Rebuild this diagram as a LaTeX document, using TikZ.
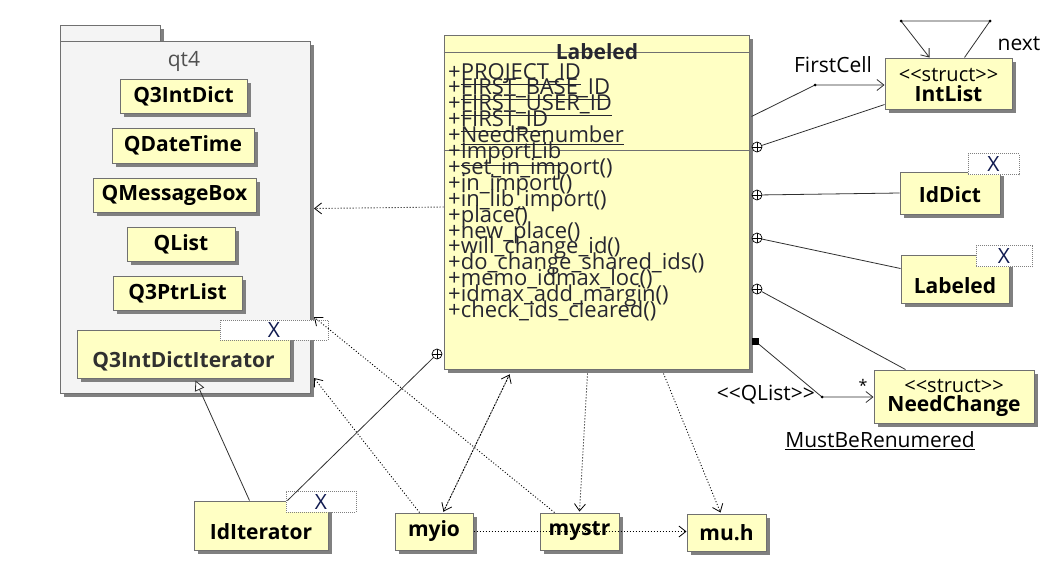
\documentclass[tikz,border=0pt]{standalone}
\usepackage{fontspec}
\setmainfont{Open Sans}
\usetikzlibrary{arrows.meta,shadows,calc}
\definecolor{clsfill}{HTML}{FFFFC4}
\definecolor{clsborder}{HTML}{707070}
\definecolor{pkgfill}{HTML}{F4F4F4}
\definecolor{memtxt}{HTML}{262630}
\definecolor{xblue}{HTML}{101A50}
\definecolor{lncol}{HTML}{303030}
\definecolor{pkgtxt}{HTML}{505050}
\newcommand{\fsz}[1]{\fontsize{#1}{#1}\selectfont}
\newcommand{\stereo}[1]{<{}<#1>{}>}
\begin{document}
\begin{tikzpicture}[x=1pt,y=-1pt,
  cls/.style={draw=clsborder, line width=1pt, fill=clsfill, inner sep=0pt,
    drop shadow={shadow xshift=3.5pt, shadow yshift=-3.5pt, fill=gray, opacity=1}},
  pkg/.style={draw=clsborder, line width=1pt, fill=pkgfill, inner sep=0pt,
    drop shadow={shadow xshift=3.5pt, shadow yshift=-3.5pt, fill=gray, opacity=1}},
  cname/.style={font=\fsz{21}\bfseries, text=black},
  ster/.style={font=\fsz{20}, text=black, align=center, inner sep=0pt},
  tmpl/.style={draw=gray, line width=1pt, dash pattern=on 1pt off 1pt, fill=white, inner sep=0pt, font=\fsz{21}, text=xblue},
  lbl/.style={font=\fsz{21}, text=black, inner sep=0pt},
  mem/.style={font=\fsz{22}, text=memtxt, inner sep=0pt, anchor=base west},
  assoc/.style={draw=lncol, line width=0.8pt},
  dep/.style={draw=black, line width=0.9pt, dash pattern=on 1pt off 2pt},
  arr/.style={-{Straight Barb[length=7pt,width=11pt,line width=0.8pt]}},
  cplus/.style={circle, draw=black, fill=white, line width=0.7pt, minimum size=10pt, inner sep=0pt,
    path picture={\draw[line width=0.7pt] (path picture bounding box.north) -- (path picture bounding box.south)
      (path picture bounding box.west) -- (path picture bounding box.east);}},
  dotpt/.style={circle, fill=black, minimum size=3pt, inner sep=0pt},
]
\useasboundingbox (0,0) rectangle (1054,566);
\fill[white] (0,0) rectangle (1054,566);

% package qt4
\node[pkg, minimum width=100pt, minimum height=16pt, anchor=north west] (qt4tab) at (60,25) {};
\node[pkg, minimum width=250pt, minimum height=352pt, anchor=north west] (qt4) at (60,41) {};
\node[font=\fsz{21}, text=pkgtxt] (qt4lbl) at (184,61) {qt4};

\node[cls, cname, minimum width=127pt, minimum height=34pt] (q3id) at (183.5,96) {Q3IntDict};
\node[cls, cname, minimum width=142pt, minimum height=35pt] (qdt) at (183,145.5) {QDateTime};
\node[cls, cname, minimum width=163pt, minimum height=34pt] (qmb) at (174.5,195) {QMessageBox};
\node[cls, cname, minimum width=108pt, minimum height=34pt] (qlist) at (181,244) {QList};
\node[cls, cname, minimum width=129pt, minimum height=34pt] (q3pl) at (177.5,293) {Q3PtrList};
\node[cls, minimum width=213pt, minimum height=48pt] (q3idi) at (183.5,354) {};
\node[cname, text=pkgtxt!60!black] (q3idit) at (183.5,361) {Q3IntDictIterator};
\node[tmpl, minimum width=108pt, minimum height=20pt] (q3idix) at (274,330) {X};

% main class Labeled
\node[cls, minimum width=305pt, minimum height=334pt] (lab) at (596.5,202) {};
\draw[draw=clsborder, line width=1pt] ($(lab.north west)+(0,18)$) -- ($(lab.north east)+(0,18)$);
\draw[draw=clsborder, line width=1pt] ($(lab.north west)+(0,116)$) -- ($(lab.north east)+(0,116)$);
\node[font=\fsz{21}\bfseries, text=memtxt] (labt) at (597,52) {Labeled};
\foreach \t [count=\i from 0] in {\underline{PROJECT\_ID},\underline{FIRST\_BASE\_ID},\underline{FIRST\_USER\_ID},\underline{FIRST\_ID},\underline{NeedRenumber},\underline{ImportLib},set\_in\_import(),in\_import(),in\_lib\_import(),place(),new\_place(),will\_change\_id(),do\_change\_shared\_ids(),memo\_idmax\_loc(),idmax\_add\_margin(),check\_ids\_cleared()}
  \node[mem] (m\i) at (448,{79+15.9*\i}) {+\t};

% right side classes
\node[cls, minimum width=127pt, minimum height=51pt, align=center] (intlist) at (948.5,83.5) {};
\node[ster] (intlists) at (948.5,75) {\stereo{struct}};
\node[cname, inner sep=0pt] (intlistn) at (948.5,94) {IntList};

\node[cls, cname, minimum width=100pt, minimum height=42pt] (iddict) at (950,193) {};
\node[cname, inner sep=0pt] (iddictn) at (950,195) {IdDict};
\node[tmpl, minimum width=51pt, minimum height=21pt] (iddictx) at (993.5,164) {X};

\node[cls, minimum width=108pt, minimum height=48pt] (lab2) at (955,279) {};
\node[cname, inner sep=0pt] (lab2n) at (955,286) {Labeled};
\node[tmpl, minimum width=56pt, minimum height=21pt] (lab2x) at (1004,256) {X};

\node[cls, minimum width=160pt, minimum height=53pt] (needch) at (954,396.5) {};
\node[ster] (needchs) at (954,386) {\stereo{struct}};
\node[cname, inner sep=0pt] (needchn) at (954,406) {NeedChange};

% bottom classes
\node[cls, minimum width=134pt, minimum height=49pt] (iditer) at (261,525.5) {};
\node[cname, inner sep=0pt] (itern) at (261,532) {IdIterator};
\node[tmpl, minimum width=70pt, minimum height=21pt] (iditerx) at (321,501.5) {X};

\node[cls, cname, minimum width=78pt, minimum height=37pt] (myio) at (434,531.5) {myio};
\node[cls, cname, minimum width=79pt, minimum height=37pt] (mystr) at (579.5,531.5) {mystr};
\node[cls, cname, minimum width=79pt, minimum height=37pt] (muh) at (726.5,532.5) {mu.h};

% markers
\node[cplus] (c1) at (757,147) {};
\node[cplus] (c2) at (757,195) {};
\node[cplus] (c3) at (757,238) {};
\node[cplus] (c4) at (757,289) {};
\node[cplus] (c5) at (437,354) {};
\node[fill=black, minimum size=7pt, inner sep=0pt] (sq) at (755,341) {};
\coordinate (fcbend) at (815,85);
\coordinate (loopA) at (901,21);
\coordinate (loopB) at (990,21);
\coordinate (qbend) at (822,397);

% associations
\draw[assoc, arr] ($(lab.north east)+(2,82)$) -- (fcbend) -- (intlist.west |- fcbend);
\node[dotpt] (fcdot) at (fcbend) {};
\draw[assoc] (c1) -- ($(intlist.south west)+(0,-5)$);
\draw[assoc, arr] ($(intlist.north west)+(80,0)$) -- (loopB) -- (loopA) -- ($(intlist.north west)+(45,0)$);
\node[dotpt] (ladot) at (loopA) {};
\node[dotpt] (lbdot) at (loopB) {};
\draw[assoc] (c2) -- (iddict.west);
\draw[assoc] (c3) -- ($(lab2.north west)+(0,14)$);
\draw[assoc] (c4) -- ($(needch.north west)+(32,0)$);
\draw[assoc, arr] (sq) -- (qbend) -- (needch.west |- qbend);
\node[dotpt] (qdot) at (qbend) {};

\node[lbl] (fclbl) at (833,65) {FirstCell};
\node[lbl] (nextlbl) at (1019,44) {next};
\node[lbl, anchor=east] (qlistlbl) at (815,395) {\stereo{QList}};
\node[lbl, font=\fsz{16}] (starlbl) at (863,385) {*};
\node[lbl] (mbrlbl) at (880,441) {\underline{MustBeRenumered}};

% left / bottom connectors
\draw[dep, arr] ($(lab.west)+(0,5)$) -- ($(qt4.east)+(3,-9)$);
\draw[assoc, -{Triangle[open,length=10pt,width=10pt,fill=white]}] ($(iditer.north west)+(56,0)$) -- ($(q3idi.south west)+(119,2)$);
\draw[assoc] (c5) -- ($(iditer.north east)+(-41,0)$);
\draw[dep, arr] ($(myio.north west)+(25,0)$) -- ($(qt4.south east)+(3,-16)$);
\draw[dep, arr] ($(mystr.north west)+(15,0)$) -- ($(qt4.north east)+(3,276)$);
\draw[dep, arr] ($(myio.north west)+(49,-1)$) -- ($(lab.south west)+(66,5)$);
\draw[dep, arr] ($(lab.south west)+(66,5)$) -- ($(myio.north west)+(49,-1)$);
\draw[dep, arr] ($(lab.south west)+(144,4)$) -- ($(mystr.north west)+(40,-1)$);
\draw[dep, arr] ($(lab.south west)+(220,4)$) -- ($(muh.north west)+(34,-1)$);
\draw[dep, arr] (myio.east) -- (myio.east -| muh.west);
\end{tikzpicture}
\end{document}
